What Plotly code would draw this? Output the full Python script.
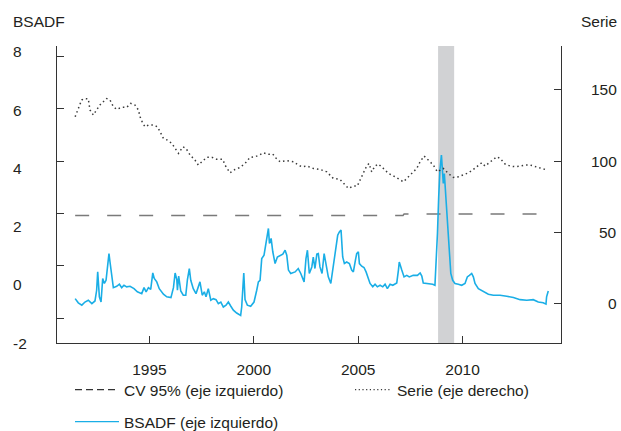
#BSADF test vs the series it is run on, with the 95% critical value
#%%
import plotly.graph_objects as go

#%%
#data (x in decimal years)
bsadf_year = [1991.44, 1991.59, 1991.76, 1991.91, 1992.07, 1992.24, 1992.39, 1992.47, 1992.52, 1992.60,
              1992.68, 1992.76, 1992.84, 1992.92, 1993.00, 1993.06, 1993.11, 1993.19, 1993.27, 1993.43,
              1993.56, 1993.67, 1993.78, 1993.91, 1994.07, 1994.26, 1994.42, 1994.63, 1994.74, 1994.84,
              1994.95, 1995.06, 1995.16, 1995.23, 1995.35, 1995.47, 1995.67, 1995.83, 1996.03, 1996.15,
              1996.23, 1996.31, 1996.34, 1996.40, 1996.50, 1996.62, 1996.74, 1996.82, 1996.91, 1996.98,
              1997.10, 1997.23, 1997.34, 1997.42, 1997.53, 1997.63, 1997.71, 1997.82, 1997.94, 1998.06,
              1998.19, 1998.30, 1998.42, 1998.54, 1998.67, 1998.78, 1998.90, 1999.02, 1999.18, 1999.37,
              1999.42, 1999.47, 1999.52, 1999.58, 1999.69, 1999.85, 2000.01, 2000.14, 2000.22, 2000.30,
              2000.38, 2000.49, 2000.59, 2000.70, 2000.75, 2000.83, 2000.91, 2001.02, 2001.13, 2001.26,
              2001.39, 2001.50, 2001.58, 2001.66, 2001.77, 2001.98, 2002.13, 2002.25, 2002.41, 2002.50,
              2002.57, 2002.66, 2002.78, 2002.85, 2002.93, 2003.02, 2003.09, 2003.17, 2003.27, 2003.37,
              2003.46, 2003.57, 2003.69, 2003.76, 2003.86, 2003.94, 2004.02, 2004.10, 2004.18, 2004.26,
              2004.34, 2004.45, 2004.58, 2004.69, 2004.77, 2004.87, 2004.93, 2005.01, 2005.06, 2005.17,
              2005.28, 2005.38, 2005.46, 2005.57, 2005.70, 2005.81, 2005.92, 2006.05, 2006.18, 2006.29,
              2006.40, 2006.53, 2006.66, 2006.85, 2006.93, 2006.97, 2007.09, 2007.20, 2007.33, 2007.45,
              2007.64, 2007.84, 2007.97, 2008.05, 2008.12, 2008.36, 2008.57, 2008.68, 2008.73, 2008.80,
              2008.86, 2008.92, 2008.99, 2009.04, 2009.08, 2009.13, 2009.18, 2009.25, 2009.31, 2009.37,
              2009.44, 2009.53, 2009.64, 2009.80, 2009.96, 2010.12, 2010.23, 2010.33, 2010.44, 2010.52,
              2010.60, 2010.76, 2010.92, 2011.08, 2011.24, 2011.48, 2011.80, 2012.12, 2012.44, 2012.76,
              2013.08, 2013.39, 2013.63, 2013.87, 2014.00, 2014.03, 2014.11]
bsadf_val = [-1.25, -1.41, -1.50, -1.38, -1.31, -1.44, -1.34, -0.93, -0.23, -1.18,
             -1.38, -0.48, -0.67, -0.55, 0.03, 0.47, 0.15, -0.48, -0.83, -0.78,
             -0.70, -0.83, -0.74, -0.80, -0.78, -0.87, -0.99, -1.06, -0.83, -0.99,
             -0.83, -0.90, -0.27, -0.48, -0.61, -0.87, -1.08, -1.18, -1.21, -0.83,
             -0.27, -0.52, -0.93, -0.39, -0.96, -1.12, -1.12, -0.52, -0.10, -0.55,
             -0.87, -1.06, -0.80, -0.61, -1.12, -0.99, -1.18, -0.87, -1.31, -1.25,
             -1.29, -1.44, -1.38, -1.57, -1.50, -1.38, -1.54, -1.69, -1.80, -1.89,
             -1.57, -0.67, -0.27, -1.29, -1.50, -1.54, -1.38, -0.93, -0.61, -0.55,
             0.28, 0.41, 0.86, 1.43, 0.86, 1.05, 0.54, 0.09, 0.34, 0.41,
             0.45, 0.60, 0.41, -0.16, -0.29, -0.23, -0.10, -0.29, -0.61, 0.28,
             0.60, -0.29, -0.04, 0.34, -0.10, 0.45, 0.47, -0.04, -0.29, 0.47,
             0.03, -0.42, -0.67, -0.29, 0.34, 0.73, 1.17, 1.30, 1.37, 0.34,
             0.09, 0.15, 0.09, -0.16, -0.23, 0.22, 0.47, 0.54, 0.09, -0.01,
             -0.06, -0.23, -0.42, -0.67, -0.80, -0.70, -0.80, -0.74, -0.80, -0.70,
             -0.87, -0.70, -0.74, -0.65, -0.16, 0.15, -0.16, -0.42, -0.36, -0.42,
             -0.36, -0.36, -0.27, -0.39, -0.65, -0.67, -0.70, -0.74, -0.10, 1.24,
             2.64, 3.66, 4.23, 3.60, 3.15, 3.53, 2.89, 2.13, 1.43, 0.28,
             -0.29, -0.55, -0.67, -0.70, -0.74, -0.67, -0.42, -0.36, -0.29, -0.42,
             -0.67, -0.87, -0.93, -0.99, -1.08, -1.12, -1.12, -1.16, -1.21, -1.29,
             -1.31, -1.29, -1.38, -1.41, -1.46, -1.18, -0.96]

serie_year = [1991.44, 1991.59, 1991.75, 1991.91, 1992.07, 1992.15, 1992.31, 1992.47, 1992.63, 1992.79,
              1992.95, 1993.11, 1993.27, 1993.43, 1993.67, 1993.91, 1994.10, 1994.31, 1994.47, 1994.55,
              1994.68, 1994.79, 1994.95, 1995.19, 1995.38, 1995.51, 1995.67, 1995.86, 1996.07, 1996.23,
              1996.39, 1996.60, 1996.75, 1996.95, 1997.18, 1997.34, 1997.51, 1997.75, 1997.99, 1998.22,
              1998.51, 1998.62, 1998.86, 1999.10, 1999.34, 1999.58, 1999.82, 2000.06, 2000.27, 2000.46,
              2000.70, 2000.91, 2001.07, 2001.26, 2001.58, 2001.90, 2002.13, 2002.30, 2002.54, 2002.85,
              2003.17, 2003.50, 2003.65, 2003.81, 2004.13, 2004.37, 2004.53, 2004.77, 2004.96, 2005.09,
              2005.25, 2005.41, 2005.52, 2005.65, 2005.81, 2005.97, 2006.21, 2006.45, 2006.77, 2007.01,
              2007.17, 2007.33, 2007.57, 2007.81, 2007.97, 2008.16, 2008.36, 2008.60, 2008.80, 2009.08,
              2009.32, 2009.56, 2009.80, 2010.04, 2010.28, 2010.52, 2010.76, 2010.92, 2011.08, 2011.24,
              2011.40, 2011.64, 2011.80, 2012.04, 2012.28, 2012.52, 2012.76, 2013.00, 2013.24, 2013.39,
              2013.56, 2013.75, 2013.96]
serie_val = [131.2, 137.0, 143.0, 144.0, 143.7, 136.0, 132.4, 136.0, 139.5, 141.8,
             144.0, 143.0, 138.3, 136.4, 137.8, 137.8, 140.6, 139.4, 136.0, 131.2,
             126.6, 124.2, 125.4, 125.4, 124.2, 120.7, 116.0, 114.8, 112.5, 109.0,
             105.5, 110.1, 109.0, 104.3, 100.8, 97.3, 99.6, 102.7, 102.7, 101.3,
             101.3, 97.3, 91.8, 94.2, 95.6, 98.4, 102.7, 103.1, 104.3, 105.9,
             104.8, 105.0, 102.0, 99.6, 100.3, 99.6, 97.3, 96.1, 96.6, 94.9,
             94.2, 92.5, 90.2, 87.9, 87.2, 83.2, 80.9, 82.5, 82.5, 86.7,
             91.4, 96.6, 98.4, 92.5, 96.6, 98.0, 94.9, 91.4, 89.0, 86.7,
             85.5, 87.9, 91.4, 94.9, 99.6, 103.6, 100.8, 97.3, 92.5, 94.9,
             91.4, 88.6, 89.0, 90.2, 91.8, 94.2, 97.3, 98.9, 96.6, 98.4,
             100.8, 103.1, 102.0, 98.0, 96.6, 96.1, 96.6, 97.3, 97.3, 96.6,
             95.6, 94.9, 94.2]

#critical value is almost flat, small step up in 2007
cv_year = [1991.44, 2007.15, 2007.20, 2014.11]
cv_val = [1.93, 1.93, 1.98, 1.98]

#shaded period
band_start = 2008.83
band_end = 2009.60

left_ticks = [8, 6, 4, 2, 0, -2]
right_ticks = [0, 50, 100, 150]
x_ticks = [1995, 2000, 2005, 2010]

#%%
FONT = 'Liberation Sans, Arial, sans-serif'
FS = 15.5
TXT = '#231f20'
AX = '#333333'
BLUE = '#1aaee6'
W, H = 621, 431
L, R, T, B = 57, 60, 46, 88
PW, PH = W - L - R, H - T - B

def px_x(p):
    #pixel -> paper x
    return (p - L) / PW

def px_y(p):
    #pixel -> paper y
    return (H - B - p) / PH

fig = go.Figure()
fig.add_trace(go.Scatter(x=cv_year, y=cv_val, mode='lines', showlegend=False, hoverinfo='skip',
                         line=dict(color='#7a7a7a', width=1.5, dash='14px,18px')))
fig.add_trace(go.Scatter(x=serie_year, y=serie_val, mode='lines', yaxis='y2', showlegend=False,
                         line=dict(color='#3a3a3a', width=1.5, dash='1.5px,3px')))
fig.add_trace(go.Scatter(x=bsadf_year, y=bsadf_val, mode='lines', showlegend=False,
                         line=dict(color=BLUE, width=1.6)))

#legend-only entries (the legend sample uses a shorter dash than the plotted line)
fig.add_trace(go.Scatter(x=[None], y=[None], mode='lines', name='CV 95% (eje izquierdo)',
                         line=dict(color='#333333', width=1.3, dash='7px,4px'), legend='legend'))
fig.add_trace(go.Scatter(x=[None], y=[None], mode='lines', name='Serie (eje derecho)',
                         line=dict(color='#3a3a3a', width=1.3, dash='1.2px,2.5px'), legend='legend2'))
fig.add_trace(go.Scatter(x=[None], y=[None], mode='lines', name='BSADF (eje izquierdo)',
                         line=dict(color=BLUE, width=1.3), legend='legend3'))

fig.add_shape(type='rect', xref='x', yref='paper', x0=band_start, x1=band_end, y0=0, y1=1,
              fillcolor='#d1d2d4', line_width=0, layer='below')

#tick labels as annotations (left labels are not lined up with the ticks in the original)
ann = []
for i, v in enumerate(left_ticks):
    ann.append(dict(text=str(v), xref='paper', yref='paper', x=px_x(11), y=px_y(51.7 + 58.3 * i),
                    xanchor='left', yanchor='middle', showarrow=False))
for v in right_ticks:
    ann.append(dict(text=str(v), xref='paper', yref='y2', x=px_x(619), y=v,
                    xanchor='right', yanchor='middle', showarrow=False))
ann.append(dict(text='BSADF', xref='paper', yref='paper', x=px_x(11), y=px_y(22),
                xanchor='left', yanchor='middle', showarrow=False))
ann.append(dict(text='Serie', xref='paper', yref='paper', x=px_x(619), y=px_y(22),
                xanchor='right', yanchor='middle', showarrow=False))

leg = dict(orientation='h', xanchor='left', yanchor='top', font=dict(size=FS), bgcolor='rgba(0,0,0,0)')

fig.update_layout(
    width=W, height=H,
    margin=dict(l=L, r=R, t=T, b=B, autoexpand=False),
    paper_bgcolor='white', plot_bgcolor='white',
    font=dict(family=FONT, size=FS, color=TXT),
    annotations=ann,
    xaxis=dict(range=[1990.57, 2014.72], tickvals=x_ticks, ticks='inside', ticklen=7, tickwidth=1.2,
               tickcolor=AX, showline=True, linecolor=AX, linewidth=1.3, showgrid=False, zeroline=False,
               ticklabelstandoff=12),
    yaxis=dict(range=[-2.945, 8.40], tickvals=left_ticks, showticklabels=False, ticks='inside', ticklen=7,
               tickwidth=1.2, tickcolor=AX, showline=True, linecolor=AX, linewidth=1.3,
               showgrid=False, zeroline=False),
    yaxis2=dict(range=[-27.7, 180.9], tickvals=right_ticks, showticklabels=False, ticks='inside', ticklen=7,
                tickwidth=1.2, tickcolor=AX, showline=True, linecolor=AX, linewidth=1.3, side='right',
                overlaying='y', showgrid=False, zeroline=False),
    legend=dict(leg, x=px_x(70), y=px_y(373), itemwidth=44),
    legend2=dict(leg, x=px_x(350), y=px_y(373), itemwidth=37),
    legend3=dict(leg, x=px_x(70), y=px_y(405), itemwidth=44),
)

#page has a default body margin, drop it so the chart sits at the top-left corner
fig.write_html("out.html", config={'displayModeBar': False},
               post_script="document.body.style.margin='0';")
